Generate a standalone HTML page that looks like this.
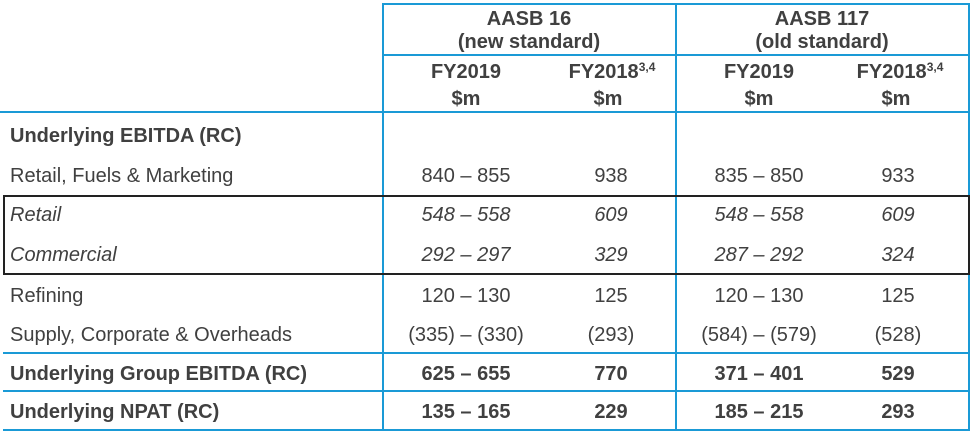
<!DOCTYPE html>
<html><head><meta charset="utf-8"><style>
body{margin:0;width:975px;height:435px;background:#fff;position:relative;overflow:hidden;font-family:"Liberation Sans",Arial,sans-serif;color:#404040}
.t{position:absolute;font-size:20px;white-space:nowrap;line-height:20px;margin-top:-1px}
.c{transform:translateX(-50%)}
.b{font-weight:bold}
.i{font-style:italic}
.h{position:absolute;height:2px;background:#1a9ad6}
.v{position:absolute;width:2px;background:#1a9ad6}
sup{font-size:12px;vertical-align:7px;line-height:0}
</style></head><body>
<div class="v" style="left:382px;top:3px;height:428px"></div>
<div class="v" style="left:675px;top:3px;height:428px"></div>
<div class="v" style="left:968px;top:3px;height:428px"></div>
<div class="h" style="left:382px;top:3px;width:588px"></div>
<div class="h" style="left:382px;top:54px;width:588px"></div>
<div class="h" style="left:0;top:111px;width:970px"></div>
<div class="h" style="left:3px;top:352px;width:967px"></div>
<div class="h" style="left:3px;top:390px;width:967px"></div>
<div class="h" style="left:3px;top:429px;width:967px"></div>
<div style="position:absolute;left:3px;top:195px;width:963px;height:76px;border:2px solid #222;box-sizing:content-box"></div>

<div class="t b c" style="left:529px;top:10px">AASB 16</div>
<div class="t b c" style="left:529px;top:33px">(new standard)</div>
<div class="t b c" style="left:822px;top:10px">AASB 117</div>
<div class="t b c" style="left:822px;top:33px">(old standard)</div>

<div class="t b c" style="left:466px;top:63px">FY2019</div>
<div class="t b c" style="left:612px;top:63px">FY2018<sup>3,4</sup></div>
<div class="t b c" style="left:759px;top:63px">FY2019</div>
<div class="t b c" style="left:900px;top:63px">FY2018<sup>3,4</sup></div>
<div class="t b c" style="left:466px;top:90px">$m</div>
<div class="t b c" style="left:608px;top:90px">$m</div>
<div class="t b c" style="left:759px;top:90px">$m</div>
<div class="t b c" style="left:896px;top:90px">$m</div>

<div class="t b" style="left:10px;top:127px">Underlying EBITDA (RC)</div>

<div class="t" style="left:10px;top:167px">Retail, Fuels &amp; Marketing</div>
<div class="t c" style="left:466px;top:167px">840 – 855</div>
<div class="t c" style="left:611px;top:167px">938</div>
<div class="t c" style="left:759px;top:167px">835 – 850</div>
<div class="t c" style="left:898px;top:167px">933</div>

<div class="t i" style="left:10px;top:206px">Retail</div>
<div class="t i c" style="left:466px;top:206px">548 – 558</div>
<div class="t i c" style="left:611px;top:206px">609</div>
<div class="t i c" style="left:759px;top:206px">548 – 558</div>
<div class="t i c" style="left:898px;top:206px">609</div>

<div class="t i" style="left:10px;top:246px">Commercial</div>
<div class="t i c" style="left:466px;top:246px">292 – 297</div>
<div class="t i c" style="left:611px;top:246px">329</div>
<div class="t i c" style="left:759px;top:246px">287 – 292</div>
<div class="t i c" style="left:898px;top:246px">324</div>

<div class="t" style="left:10px;top:287px">Refining</div>
<div class="t c" style="left:466px;top:287px">120 – 130</div>
<div class="t c" style="left:611px;top:287px">125</div>
<div class="t c" style="left:759px;top:287px">120 – 130</div>
<div class="t c" style="left:898px;top:287px">125</div>

<div class="t" style="left:10px;top:326px">Supply, Corporate &amp; Overheads</div>
<div class="t c" style="left:466px;top:326px">(335) – (330)</div>
<div class="t c" style="left:611px;top:326px">(293)</div>
<div class="t c" style="left:759px;top:326px">(584) – (579)</div>
<div class="t c" style="left:898px;top:326px">(528)</div>

<div class="t b" style="left:10px;top:365px">Underlying Group EBITDA (RC)</div>
<div class="t b c" style="left:466px;top:365px">625 – 655</div>
<div class="t b c" style="left:611px;top:365px">770</div>
<div class="t b c" style="left:759px;top:365px">371 – 401</div>
<div class="t b c" style="left:898px;top:365px">529</div>

<div class="t b" style="left:10px;top:403px">Underlying NPAT (RC)</div>
<div class="t b c" style="left:466px;top:403px">135 – 165</div>
<div class="t b c" style="left:611px;top:403px">229</div>
<div class="t b c" style="left:759px;top:403px">185 – 215</div>
<div class="t b c" style="left:898px;top:403px">293</div>
</body></html>
